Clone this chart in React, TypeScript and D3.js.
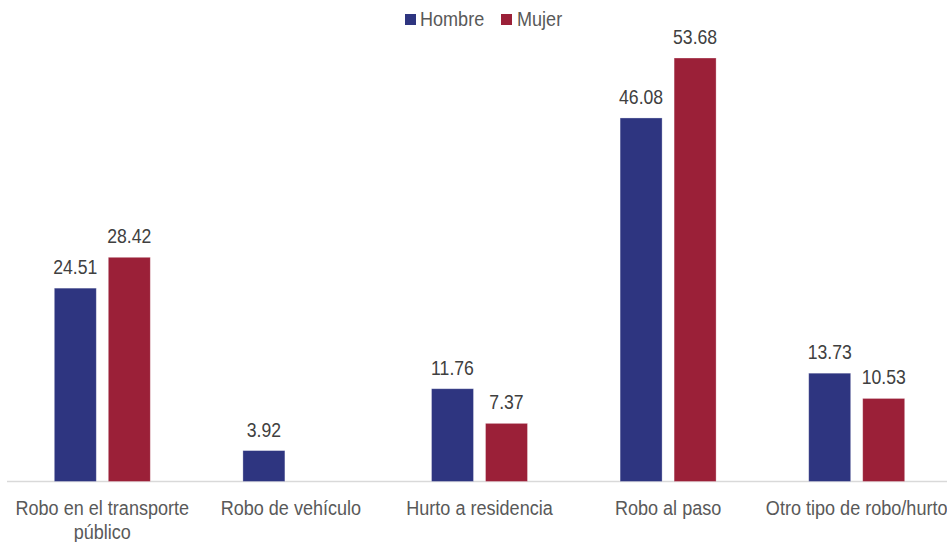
import React from "react";
import * as d3 from "d3";

const categories = [
  ["Robo en el transporte", "público"],
  ["Robo de vehículo"],
  ["Hurto a residencia"],
  ["Robo al paso"],
  ["Otro tipo de robo/hurto"],
];
const seriesNames = ["Hombre", "Mujer"];
const hombre: (number | null)[] = [24.51, 3.92, 11.76, 46.08, 13.73];
const mujer: (number | null)[] = [28.42, null, 7.37, 53.68, 10.53];
const colors = ["#2E3580", "#9B2038"];

const W = 947;
const H = 542;
const FONT = "'Liberation Sans', Arial, sans-serif";
const SX = 0.86;

function T({ x, y, size, fill, anchor = "start", children }: any) {
  return (
    <text
      transform={`translate(${x},${y}) scale(${SX},1)`}
      textAnchor={anchor}
      fontSize={size}
      fill={fill}
    >
      {children}
    </text>
  );
}

export default function App() {
  const x = d3
    .scaleBand<number>()
    .domain(d3.range(categories.length))
    .range([8, 951]);
  const y = d3.scaleLinear().domain([0, 53.68]).range([481.5, 58]);
  const barW = 42;
  const gap = 6;
  const series = [hombre, mujer];

  return (
    <svg
      width={W}
      height={H}
      style={{ position: "absolute", left: 0, top: 0, background: "#fff" }}
      fontFamily={FONT}
    >
      <line x1={7} x2={947} y1={481.5} y2={481.5} stroke="#D9D9D9" strokeWidth={1.5} />
      {categories.map((cat, i) => {
        const cx = (x(i) as number) + x.bandwidth() / 2;
        return (
          <g key={i}>
            {series.map((s, j) => {
              const v = s[i];
              if (v == null) return null;
              const bx = j === 0 ? cx - gap - barW : cx + gap;
              return (
                <g key={j}>
                  <rect
                    x={bx}
                    y={y(v)}
                    width={barW}
                    height={y(0) - y(v)}
                    fill={colors[j]}
                    stroke="#ffffff"
                    strokeOpacity={0.4}
                    strokeWidth={0.8}
                  />
                  <T x={bx + barW / 2} y={y(v) - 14} anchor="middle" size={20.5} fill="#404040">
                    {v.toFixed(2)}
                  </T>
                </g>
              );
            })}
            {cat.map((line, k) => (
              <T key={k} x={cx} y={515 + k * 24} anchor="middle" size={21} fill="#595959">
                {line}
              </T>
            ))}
          </g>
        );
      })}
      <g>
        <rect x={405} y={14} width={11} height={11} fill={colors[0]} />
        <T x={420} y={26} size={21} fill="#595959">
          {seriesNames[0]}
        </T>
        <rect x={501} y={14} width={11} height={11} fill={colors[1]} />
        <T x={517} y={26} size={21} fill="#595959">
          {seriesNames[1]}
        </T>
      </g>
    </svg>
  );
}
